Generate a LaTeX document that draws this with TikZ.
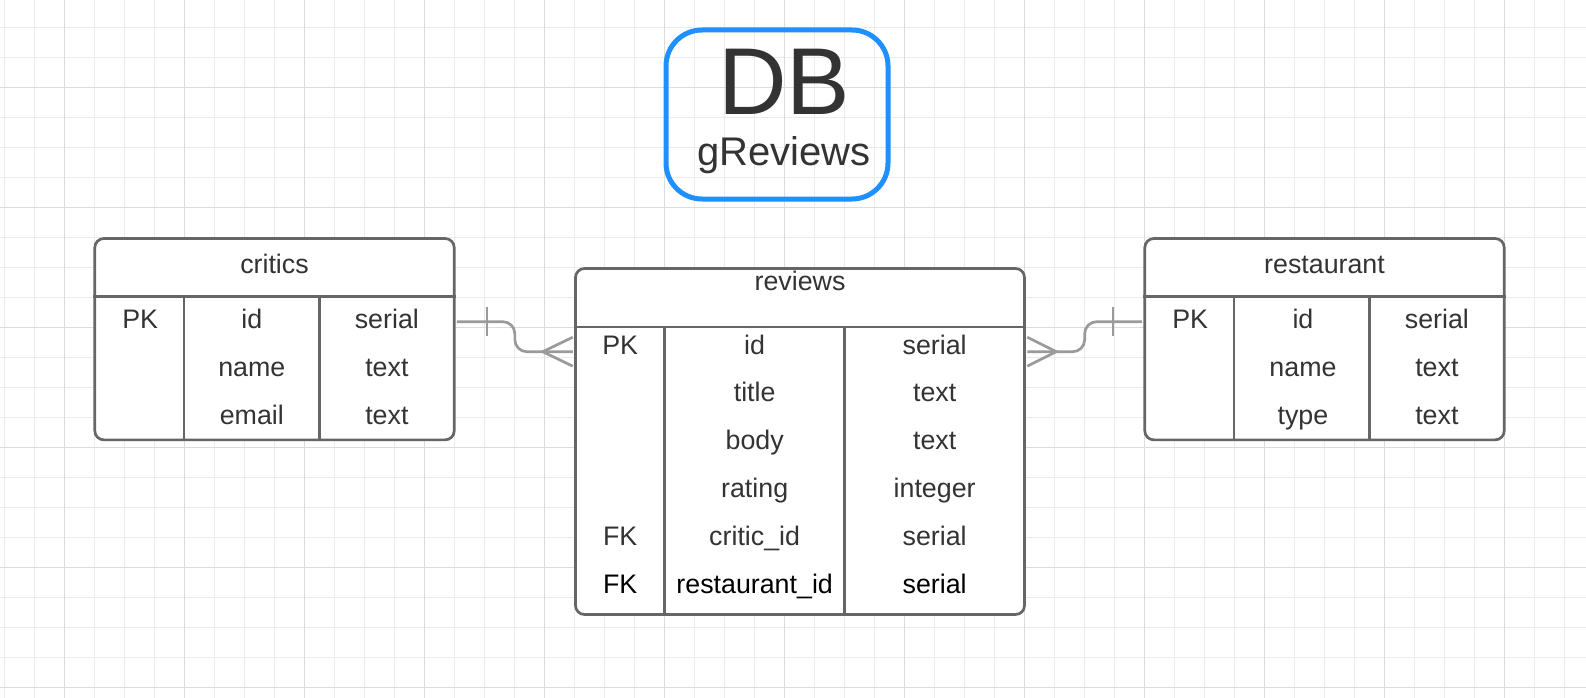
\documentclass[tikz,border=0pt]{standalone}
\usepackage{fontspec}
\setmainfont{Liberation Sans}
\usepackage{tikz}
\usetikzlibrary{calc, positioning}

\definecolor{ink}{HTML}{333333}
\definecolor{edgegray}{HTML}{666666}
\definecolor{relgray}{HTML}{9A9A9A}
\definecolor{gridminor}{HTML}{EBEBEB}
\definecolor{gridmajor}{HTML}{DCDCDC}
\definecolor{dbblue}{HTML}{1E90FF}

\newcommand{\cellfont}{\fontsize{26.8}{30}\selectfont}

\tikzset{
	tablebox/.style={draw=edgegray, fill=white, line width=2.7pt, rounded corners=9pt, inner sep=0pt},
	tableline/.style={draw=edgegray, line width=2.7pt},
	cell/.style={font=\cellfont, text=ink, anchor=base, inner sep=0pt},
	relline/.style={draw=relgray, line width=2.7pt},
	minorline/.style={draw=gridminor, line width=1pt},
	majorline/.style={draw=gridmajor, line width=1pt},
}

\begin{document}
\begin{tikzpicture}[x=1pt, y=-1pt]
		\useasboundingbox (0,0) rectangle (1586,698);
		% Grid
		\fill[white] (0,0) rectangle (1586,698);
		\foreach \i in {0,...,52} \draw[minorline] (4.3+30*\i,0) -- (4.3+30*\i,698);
		\foreach \i in {0,...,22} \draw[minorline] (0,27.3+30*\i) -- (1586,27.3+30*\i);
		\foreach \i in {0,...,12} \draw[majorline] (64.3+120*\i,0) -- (64.3+120*\i,698);
		\foreach \i in {0,...,5} \draw[majorline] (0,87.3+120*\i) -- (1586,87.3+120*\i);

		% Title
		\node[draw=dbblue, line width=5pt, rounded corners=36pt, minimum width=222pt, minimum height=169pt, inner sep=0pt] (db) at (777,114.5) {};
		\node[anchor=base, inner sep=0pt, text=ink, font=\fontsize{95}{100}\selectfont] (db-name) at ($(db.center)+(7,0.5)$) {DB};
		\node[anchor=base, inner sep=0pt, text=ink, font=\fontsize{40}{44}\selectfont] (db-sub) at ($(db.center)+(7,50.5)$) {gReviews};

		% critics
		\node[tablebox, minimum width=359.4pt, minimum height=201.3pt] (critics) at (274.5,339.2) {};
		\draw[tableline] ([yshift=-59.5pt]critics.north west) -- ([yshift=-59.5pt]critics.north east);
		\draw[tableline] ([xshift=90.4pt,yshift=-59.5pt]critics.north west) -- ([xshift=90.4pt]critics.south west);
		\draw[tableline] ([xshift=225.7pt,yshift=-59.5pt]critics.north west) -- ([xshift=225.7pt]critics.south west);
		\node[cell] (critics-head) at ($(critics.north)+(0,36.5)$) {critics};
		\foreach \k/\f/\t [count=\i from 0] in {PK/id/serial, /name/text, /email/text} {
			\node[cell] (critics-k\i) at ($(critics.north west)+(46.7,91.5+47.8*\i)$) {\k};
			\node[cell] (critics-f\i) at ($(critics.north west)+(158.4,91.5+47.8*\i)$) {\f};
			\node[cell] (critics-t\i) at ($(critics.north west)+(293.4,91.5+47.8*\i)$) {\t};
		}

		% reviews
		\node[tablebox, minimum width=449pt, minimum height=346pt] (reviews) at (800,441.5) {};
		\draw[tableline] ([yshift=-59.8pt]reviews.north west) -- ([yshift=-59.8pt]reviews.north east);
		\draw[tableline] ([xshift=90pt,yshift=-59.8pt]reviews.north west) -- ([xshift=90pt]reviews.south west);
		\draw[tableline] ([xshift=270pt,yshift=-59.8pt]reviews.north west) -- ([xshift=270pt]reviews.south west);
		\node[cell] (reviews-head) at ($(reviews.north)+(0,23)$) {reviews};
		\foreach \k/\f/\t/\c [count=\i from 0] in {PK/id/serial/ink, /title/text/ink, /body/text/ink, /rating/integer/ink, FK/critic\_id/serial/ink, FK/restaurant\_id/serial/black} {
			\node[cell, text=\c] (reviews-k\i) at ($(reviews.north west)+(46,87+47.8*\i)$) {\k};
			\node[cell, text=\c] (reviews-f\i) at ($(reviews.north west)+(180.5,87+47.8*\i)$) {\f};
			\node[cell, text=\c] (reviews-t\i) at ($(reviews.north west)+(360.5,87+47.8*\i)$) {\t};
		}

		% restaurant
		\node[tablebox, minimum width=359.4pt, minimum height=201.3pt] (restaurant) at (1324.5,339.2) {};
		\draw[tableline] ([yshift=-59.5pt]restaurant.north west) -- ([yshift=-59.5pt]restaurant.north east);
		\draw[tableline] ([xshift=90.4pt,yshift=-59.5pt]restaurant.north west) -- ([xshift=90.4pt]restaurant.south west);
		\draw[tableline] ([xshift=225.7pt,yshift=-59.5pt]restaurant.north west) -- ([xshift=225.7pt]restaurant.south west);
		\node[cell] (restaurant-head) at ($(restaurant.north)+(0,36.5)$) {restaurant};
		\foreach \k/\f/\t [count=\i from 0] in {PK/id/serial, /name/text, /type/text} {
			\node[cell] (restaurant-k\i) at ($(restaurant.north west)+(46.7,91.5+47.8*\i)$) {\k};
			\node[cell] (restaurant-f\i) at ($(restaurant.north west)+(159.5,91.5+47.8*\i)$) {\f};
			\node[cell] (restaurant-t\i) at ($(restaurant.north west)+(293.4,91.5+47.8*\i)$) {\t};
		}

		% Relations
		\coordinate (critics-out) at ([xshift=1.4pt,yshift=17.5pt]critics.east);
		\coordinate (reviews-in) at ([xshift=-1.4pt,yshift=89.8pt]reviews.west);
		\coordinate (reviews-out) at ([xshift=1.4pt,yshift=89.8pt]reviews.east);
		\coordinate (restaurant-in) at ([xshift=-1.4pt,yshift=17.5pt]restaurant.west);
		\coordinate (bend-l) at ($(critics-out)!0.5!(reviews-in)$);
		\coordinate (bend-r) at ($(reviews-out)!0.5!(restaurant-in)$);

		\draw[relline, rounded corners=12pt] (critics-out) -| (bend-l |- reviews-in) -- (reviews-in);
		\draw[relline] ([xshift=30pt,yshift=14.5pt]critics-out) -- ([xshift=30pt,yshift=-14.5pt]critics-out);
		\draw[relline] ([yshift=14.5pt]reviews-in) -- ([xshift=-30pt]reviews-in) -- ([yshift=-14.5pt]reviews-in);

		\draw[relline, rounded corners=12pt] (reviews-out) -| (bend-r |- restaurant-in) -- (restaurant-in);
		\draw[relline] ([yshift=14.5pt]reviews-out) -- ([xshift=29pt]reviews-out) -- ([yshift=-14.5pt]reviews-out);
		\draw[relline] ([xshift=-29pt,yshift=14.5pt]restaurant-in) -- ([xshift=-29pt,yshift=-14.5pt]restaurant-in);
	\end{tikzpicture}
\end{document}
